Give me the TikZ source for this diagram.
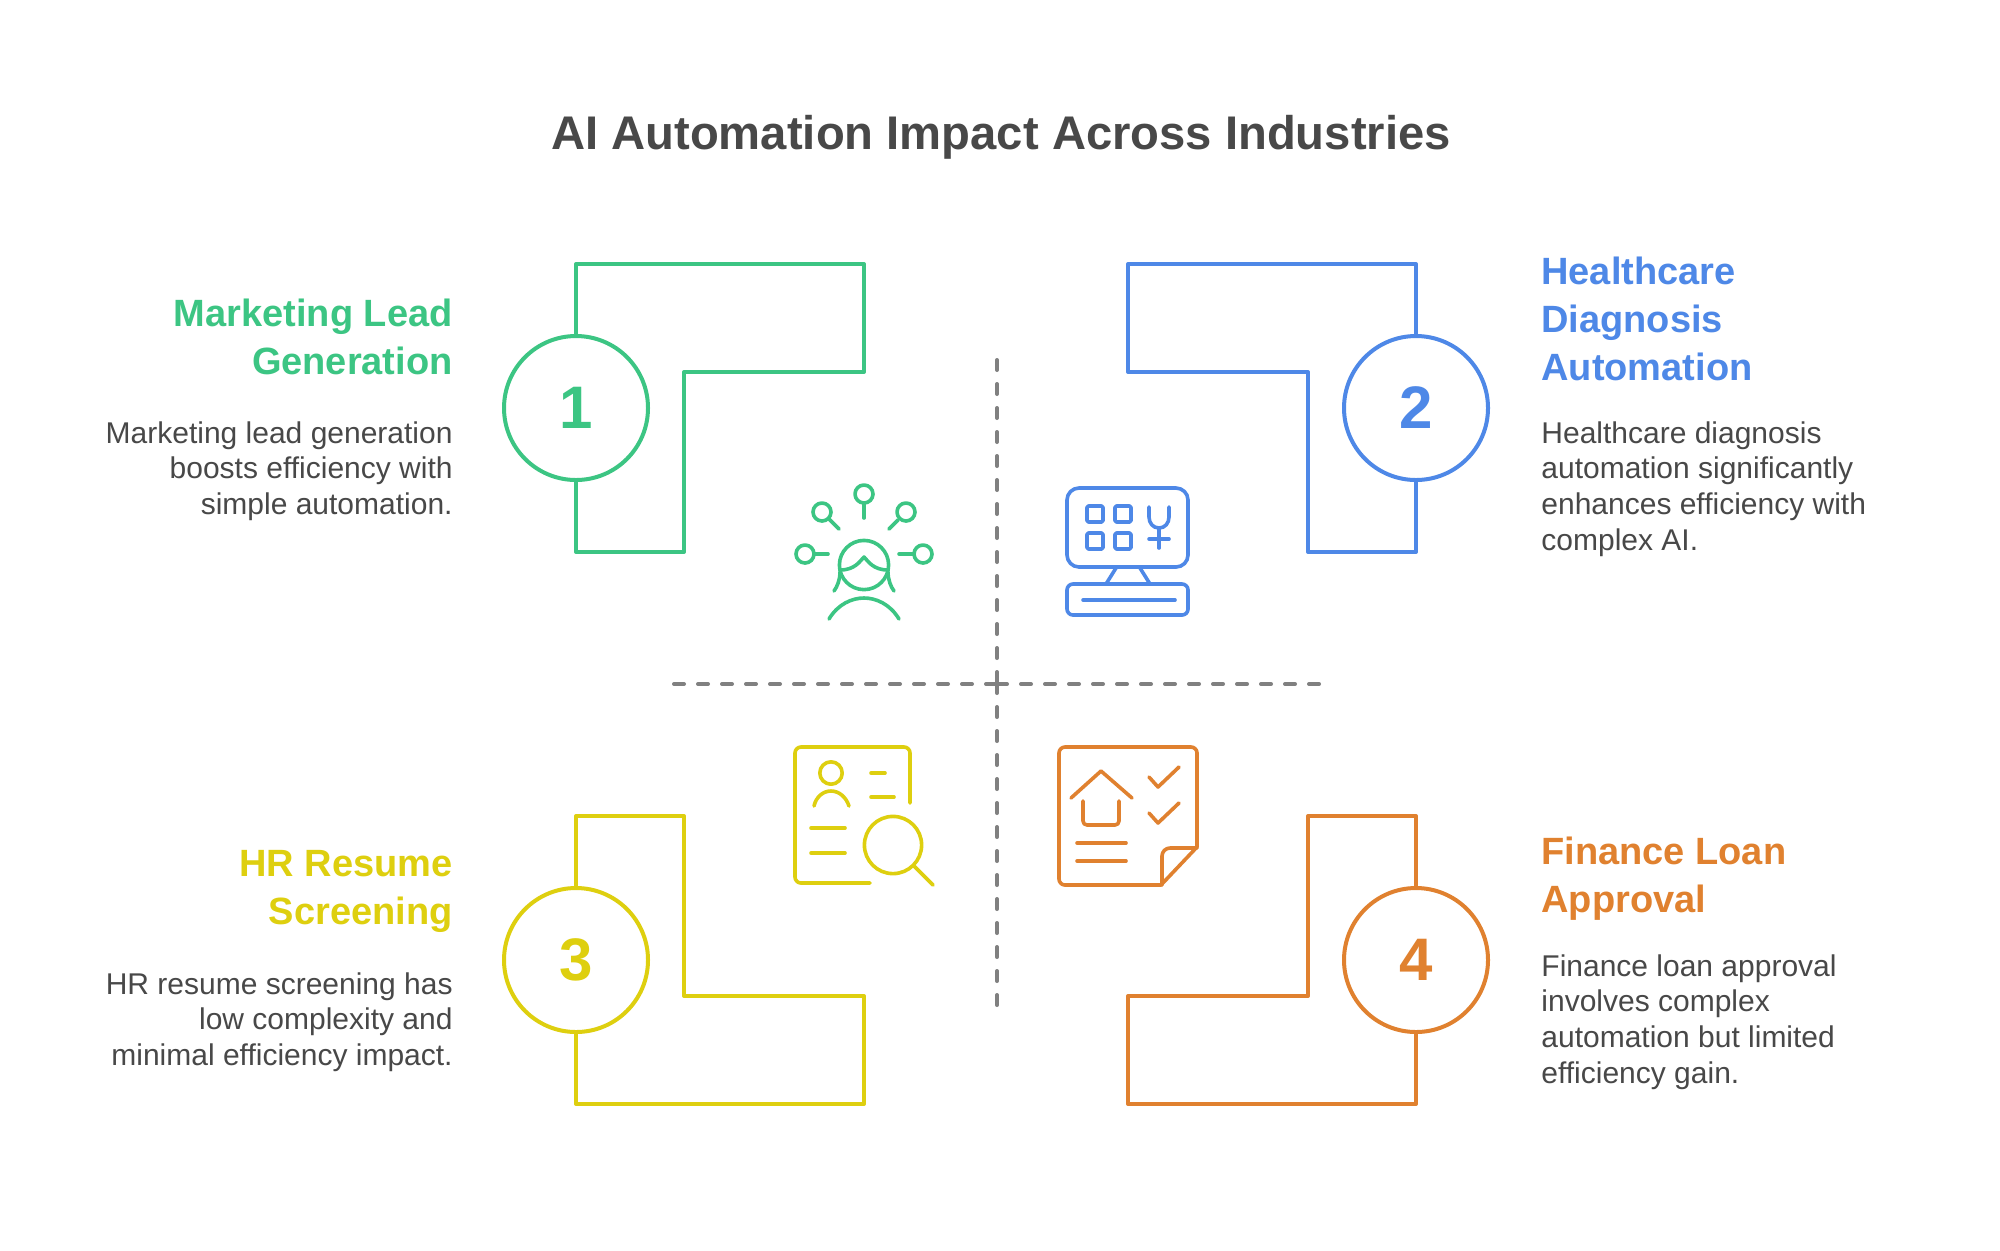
\documentclass[tikz,border=0pt]{standalone}
\usepackage{fontspec}
\setmainfont{Liberation Sans}
\definecolor{mkgreen}{HTML}{3CC583}
\definecolor{hcblue}{HTML}{4E88E7}
\definecolor{hryellow}{HTML}{DECF0F}
\definecolor{fnorange}{HTML}{E0812F}
\definecolor{inkgray}{HTML}{484848}
\definecolor{axisgray}{HTML}{808080}
\begin{document}
\begin{tikzpicture}[x=0.5pt, y=-0.5pt, line join=round]
	\tikzstyle{ring}    = [circle, minimum size=72pt, inner sep=0pt, outer sep=0pt, line width=2pt, draw, font=\fontsize{30}{30}\selectfont\bfseries]
	\tikzstyle{frame}   = [line width=2pt]
	\tikzstyle{icon}    = [line width=1.8pt, line cap=round]
	\tikzstyle{axis}    = [line width=2pt, axisgray, dash pattern=on 5pt off 7pt, line cap=round]
	\tikzstyle{heading} = [inner sep=0pt, font=\fontsize{19}{24}\selectfont\bfseries]
	\tikzstyle{body}    = [inner sep=0pt, text=inkgray, font=\fontsize{15}{17.9}\selectfont]

	\useasboundingbox (0, 0) rectangle (2000, 1250);
	\fill[white] (0, 0) rectangle (2000, 1250);

	\node[inner sep=0pt, text=inkgray, font=\fontsize{23.6}{28}\selectfont\bfseries] (title) at (1001, 137) {AI Automation Impact Across Industries};

	% axes
	\coordinate (axiscenter) at (997, 684);
	\coordinate (axistop) at (997, 360);
	\coordinate (axisbot) at (997, 1005);
	\coordinate (axisleft) at (674, 684);
	\coordinate (axisright) at (1319, 684);
	\foreach \from in {axistop, axisbot, axisleft, axisright}
		\draw[axis] (\from) -- (axiscenter);

	% numbered rings
	\foreach \text/\x/\y/\col in {1/576/408/mkgreen, 2/1416/408/hcblue, 3/576/960/hryellow, 4/1416/960/fnorange}
		\node[ring, draw=\col, text=\col] (ring\text) at (\x, \y) {\text};

	% frames
	\draw[frame, mkgreen] (ring1.north) -- (576, 264) -- (864, 264) -- (864, 372) -- (684, 372) -- (684, 552) -- (576, 552) -- (ring1.south);
	\draw[frame, hcblue] (ring2.north) -- (1416, 264) -- (1128, 264) -- (1128, 372) -- (1308, 372) -- (1308, 552) -- (1416, 552) -- (ring2.south);
	\draw[frame, hryellow] (ring3.north) -- (576, 816) -- (684, 816) -- (684, 996) -- (864, 996) -- (864, 1104) -- (576, 1104) -- (ring3.south);
	\draw[frame, fnorange] (ring4.north) -- (1416, 816) -- (1308, 816) -- (1308, 996) -- (1128, 996) -- (1128, 1104) -- (1416, 1104) -- (ring4.south);

	% texts on the left
	\node[heading, text=mkgreen, anchor=north east, align=right] (head1) at (453, 299) {Marketing Lead\\Generation};
	\node[body, anchor=north east, align=right] (body1) at (453, 421) {Marketing lead generation\\boosts efficiency with\\simple automation.};
	\node[heading, text=hryellow, anchor=north east, align=right] (head3) at (453, 850) {HR Resume\\Screening};
	\node[body, anchor=north east, align=right] (body3) at (453, 972) {HR resume screening has\\low complexity and\\minimal efficiency impact.};

	% texts on the right
	\node[heading, text=hcblue, anchor=north west, align=left] (head2) at (1541, 257) {Healthcare\\Diagnosis\\Automation};
	\node[body, anchor=north west, align=left] (body2) at (1541, 421) {Healthcare diagnosis\\automation significantly\\enhances efficiency with\\complex AI.};
	\node[heading, text=fnorange, anchor=north west, align=left] (head4) at (1541, 837) {Finance Loan\\Approval};
	\node[body, anchor=north west, align=left] (body4) at (1541, 954) {Finance loan approval\\involves complex\\automation but limited\\efficiency gain.};

	% icon 1
	\begin{scope}[icon, mkgreen]
		\foreach \x/\y/\a/\b/\c/\d in {864/494/864/504/864/518, 822/512/829/519/839/529, 906/512/898/520/889/529, 805/554/815/554/828/554, 923/554/913/554/899/554} {
			\draw (\x, \y) circle (4.5pt);
			\draw (\a, \b) -- (\c, \d);
		}
		\draw (864, 565) circle (12.3pt);
		\draw (840, 570) .. controls (855, 570) and (860, 561) .. (864, 557) .. controls (868, 561) and (873, 570) .. (888, 570);
		\draw (840, 572) .. controls (840, 580) and (837, 587) .. (834, 591);
		\draw (888, 572) .. controls (888, 580) and (891, 587) .. (894, 591);
		\draw (829, 619) .. controls (838, 604) and (852, 598) .. (864, 598) .. controls (876, 598) and (890, 604) .. (899, 619);
	\end{scope}

	% icon 2
	\begin{scope}[icon, hcblue]
		\draw[rounded corners=6pt] (1067, 488) rectangle (1188, 567);
		\draw[rounded corners=3pt] (1067, 584) rectangle (1188, 615);
		\draw (1116, 568) -- (1106, 584);
		\draw (1140, 568) -- (1150, 584);
		\draw (1083, 600) -- (1175, 600);
		\foreach \x/\y in {1087/506, 1115/506, 1087/533, 1115/533}
			\draw[rounded corners=0.7pt] (\x, \y) rectangle ++(16, 16);
		\draw (1149, 507) -- (1149, 517) .. controls (1149, 523) and (1153, 528) .. (1159, 528) .. controls (1165, 528) and (1169, 523) .. (1169, 517) -- (1169, 507);
		\draw (1159, 528) -- (1159, 548);
		\draw (1149, 539) -- (1169, 539);
	\end{scope}

	% icon 3
	\begin{scope}[icon, hryellow]
		\draw[rounded corners=3pt] (910, 803) -- (910, 747) -- (795, 747) -- (795, 883) -- (870, 883);
		\draw (831, 773) circle (5.6pt);
		\draw (814, 806) .. controls (816, 797) and (823, 791) .. (831, 791) .. controls (839, 791) and (846, 797) .. (849, 806);
		\draw (871, 773) -- (885, 773);
		\draw (871, 797) -- (894, 797);
		\draw (811, 828) -- (845, 828);
		\draw (811, 853) -- (845, 853);
		\draw (893, 845) circle (14.3pt);
		\draw (914, 866) -- (933, 885);
	\end{scope}

	% icon 4
	\begin{scope}[icon, fnorange]
		\draw[rounded corners=3pt] (1161, 885) -- (1059, 885) -- (1059, 747) -- (1197, 747) -- (1197, 847);
		\draw (1197, 847) -- (1161, 885);
		\draw[rounded corners=4pt] (1197, 848) -- (1162, 848) -- (1162, 885);
		\draw (1071, 798) -- (1101, 771) -- (1132, 798);
		\draw[rounded corners=2pt] (1083, 801) -- (1083, 825) -- (1119, 825) -- (1119, 801);
		\draw (1149, 777) -- (1158, 787) -- (1179, 767);
		\draw (1149, 813) -- (1158, 823) -- (1179, 803);
		\draw (1077, 843) -- (1126, 843);
		\draw (1077, 861) -- (1126, 861);
	\end{scope}
\end{tikzpicture}
\end{document}
